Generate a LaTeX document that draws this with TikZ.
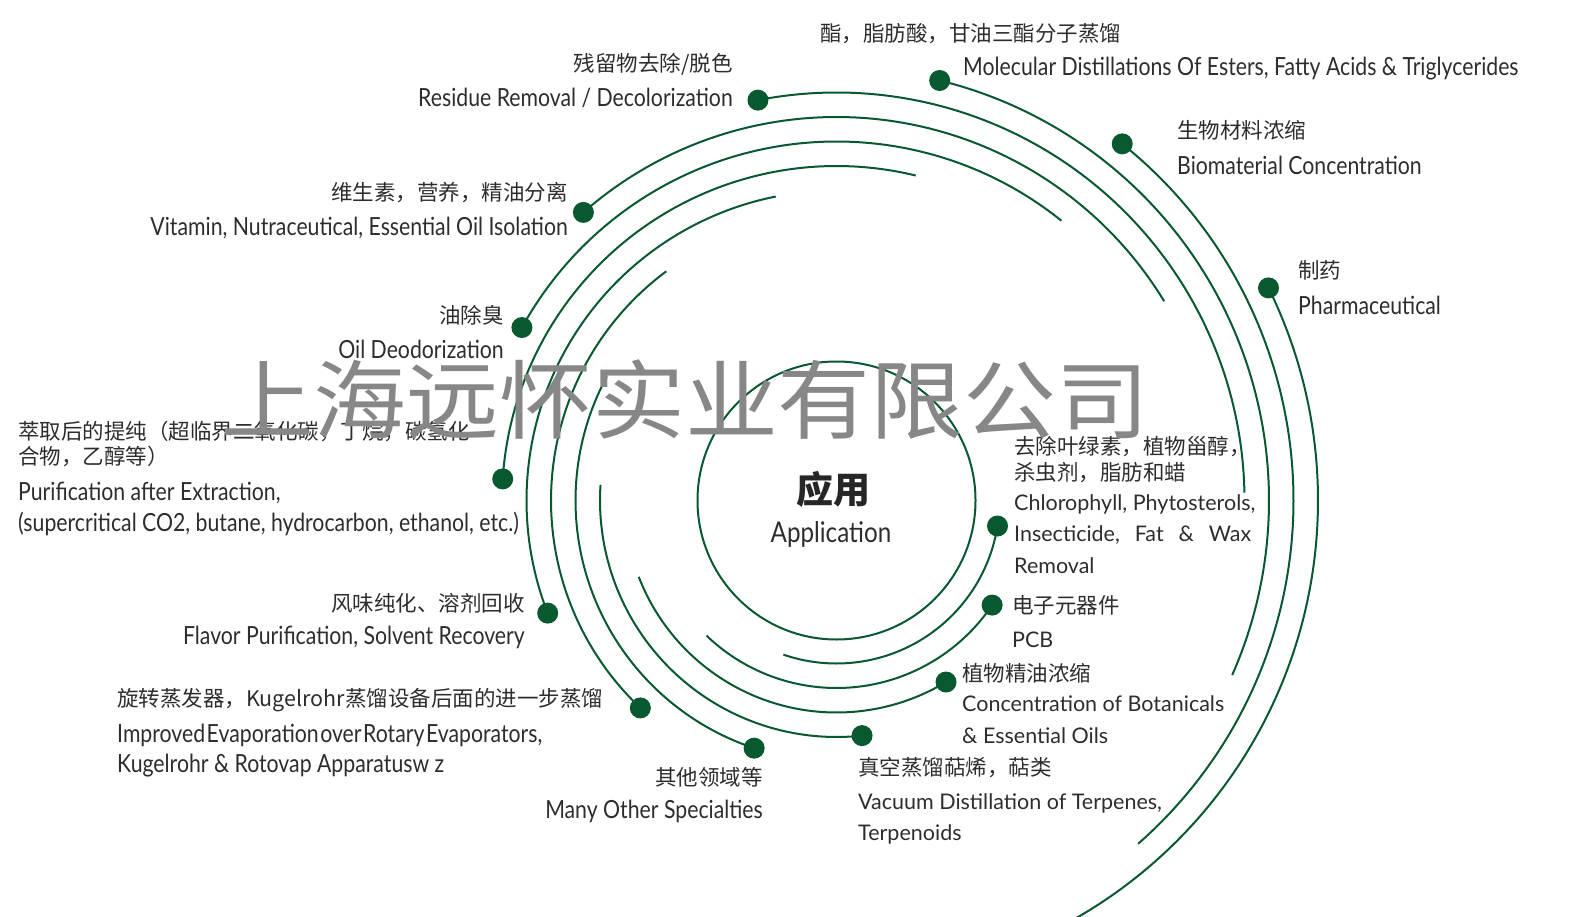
\documentclass[tikz,border=0pt]{standalone}
\usepackage{fontspec}
\setmainfont{Lato}[FakeStretch=0.85]
\newfontfamily\rfont{Lato}
\newfontfamily\cjk{Noto Sans CJK SC}
\newfontfamily\wmfont{Noto Sans CJK SC}[FakeStretch=1.08]
\usetikzlibrary{positioning}
\definecolor{leaf}{RGB}{8,88,48}
\definecolor{ink}{RGB}{45,45,45}
\definecolor{mark}{RGB}{135,135,135}

\begin{document}
\begin{tikzpicture}[x=1pt,y=1pt,
    leafdot/.style={circle, fill=leaf, inner sep=0pt, minimum size=21pt},
    arcline/.style={draw=leaf, line width=2pt},
    cn/.style={inner sep=0pt, text=ink, font=\cjk\fontsize{21.5}{25}\selectfont},
    en/.style={inner sep=0pt, text=ink, font=\fontsize{25}{30}\selectfont},
    enr/.style={inner sep=0pt, text=ink, font=\rfont\fontsize{21.5}{25}\selectfont},
    wmark/.style={inner sep=0pt, text=mark, font=\wmfont\fontsize{86}{90}\selectfont}]
    \useasboundingbox (0,0) rectangle (1573,-917);
    \coordinate (c) at (836.5,-500.5);
    % core
    \node[draw=leaf, line width=2pt, circle, inner sep=0pt, minimum size=278pt] (core) at (c) {};
    \node[inner sep=0pt, text=black!85, font=\cjk\bfseries\fontsize{37}{40}\selectfont] (yy) at (833,-489) {应用};
    \node[inner sep=0pt, text=ink, font=\fontsize{28.5}{32}\selectfont] (app) at (831,-534) {Application};
    % dots
    \node[leafdot] (d1) at ([shift={(-9.0:163)}]c) {};
    \node[leafdot] (d2) at ([shift={(-33.9:187.5)}]c) {};
    \node[leafdot] (d3) at ([shift={(-58.9:212)}]c) {};
    \node[leafdot] (d4) at ([shift={(-83.8:236.5)}]c) {};
    \node[leafdot] (d5) at ([shift={(-108.4:261)}]c) {};
    \node[leafdot] (d6) at ([shift={(-133.4:285.5)}]c) {};
    \node[leafdot] (d7) at ([shift={(-158.7:310)}]c) {};
    \node[leafdot] (d8) at ([shift={(176.3:334.5)}]c) {};
    \node[leafdot] (d9) at ([shift={(151.2:359)}]c) {};
    \node[leafdot] (d10) at ([shift={(131.3:383.5)}]c) {};
    \node[leafdot] (d11) at ([shift={(101.1:408)}]c) {};
    \node[leafdot] (d12) at ([shift={(76.2:432.5)}]c) {};
    \node[leafdot] (d13) at ([shift={(51.3:457)}]c) {};
    \node[leafdot] (d14) at ([shift={(26.2:481.5)}]c) {};
    % arcs
    \draw[arcline] (d1.center) arc[start angle=-9.0, end angle=-109.0, radius=163];
    \draw[arcline] (d2.center) arc[start angle=-33.9, end angle=-133.9, radius=187.5];
    \draw[arcline] (d3.center) arc[start angle=-58.9, end angle=-158.9, radius=212];
    \draw[arcline] (d4.center) arc[start angle=-83.8, end angle=-183.8, radius=236.5];
    \draw[arcline] (d5.center) arc[start angle=-108.4, end angle=-208.4, radius=261];
    \draw[arcline] (d6.center) arc[start angle=-133.4, end angle=-233.4, radius=285.5];
    \draw[arcline] (d7.center) arc[start angle=-158.7, end angle=-258.7, radius=310];
    \draw[arcline] (d8.center) arc[start angle=176.3, end angle=76.3, radius=334.5];
    \draw[arcline] (d9.center) arc[start angle=151.2, end angle=51.2, radius=359];
    \draw[arcline] (d10.center) arc[start angle=131.3, end angle=31.3, radius=383.5];
    \draw[arcline] (d11.center) arc[start angle=101.1, end angle=1.1, radius=408];
    \draw[arcline] (d12.center) arc[start angle=76.2, end angle=-23.8, radius=432.5];
    \draw[arcline] (d13.center) arc[start angle=51.3, end angle=-48.7, radius=457];
    \draw[arcline] (d14.center) arc[start angle=26.2, end angle=-73.8, radius=481.5];
    % labels, right block
    \node[cn, anchor=west] (t1a) at (1014,-447) {去除叶绿素，植物甾醇，};
    \node[cn, anchor=west] (t1b) at (1014,-473) {杀虫剂，脂肪和蜡};
    \node[enr, anchor=west] (t1c) at (1014,-504) {Chlorophyll, Phytosterols,};
    \node[enr, anchor=west] (t1d) at (1014,-535) {\hbox to 237pt{Insecticide,\hfill Fat\hfill \&\hfill Wax}};
    \node[enr, anchor=west] (t1e) at (1014,-566) {Removal};
    \node[cn, anchor=west] (t2a) at (1012,-605) {电子元器件};
    \node[enr, anchor=west] (t2b) at (1012,-640) {PCB};
    \node[cn, anchor=west] (t3a) at (962,-673) {植物精油浓缩};
    \node[enr, anchor=west] (t3b) at (962,-704) {Concentration of Botanicals};
    \node[enr, anchor=west] (t3c) at (962,-736) {\& Essential Oils};
    \node[cn, anchor=west] (t4a) at (858,-768) {真空蒸馏萜烯，萜类};
    \node[enr, anchor=west] (t4b) at (858,-803) {Vacuum Distillation of Terpenes,};
    \node[enr, anchor=west] (t4c) at (858,-834) {Terpenoids};
    % labels, left side
    \node[cn, anchor=east] (t5a) at (763,-777) {其他领域等};
    \node[en, anchor=east] (t5b) at (763,-811) {Many Other Specialties};
    \node[cn, anchor=west] (t6a) at (117,-700) {旋转蒸发器，Kugelrohr蒸馏设备后面的进一步蒸馏};
    \node[en, anchor=west] (t6b) at (117,-735) {Improved\hspace{1.5pt}Evaporation\hspace{1.5pt}over\hspace{1.5pt}Rotary\hspace{1.5pt}Evaporators,};
    \node[en, anchor=west] (t6c) at (117,-766) {Kugelrohr \& Rotovap Apparatusw z};
    \node[cn, anchor=east] (t7a) at (525,-603) {风味纯化、溶剂回收};
    \node[en, anchor=east] (t7b) at (525,-637) {Flavor Purification, Solvent Recovery};
    \node[cn, anchor=west] (t8a) at (18,-431) {萃取后的提纯（超临界二氧化碳，丁烷，碳氢化};
    \node[cn, anchor=west] (t8b) at (18,-456) {合物，乙醇等）};
    \node[en, anchor=west] (t8c) at (18,-493) {Purification after Extraction,};
    \node[en, anchor=west] (t8d) at (18,-524) {(supercritical CO2, butane, hydrocarbon, ethanol, etc.)};
    \node[cn, anchor=east] (t9a) at (504,-315) {油除臭};
    \node[en, anchor=east] (t9b) at (504,-349) {Oil Deodorization};
    \node[cn, anchor=east] (t10a) at (568,-193) {维生素，营养，精油分离};
    \node[en, anchor=east] (t10b) at (568,-228) {Vitamin, Nutraceutical, Essential Oil Isolation};
    \node[cn, anchor=east] (t11a) at (733,-64) {残留物去除/脱色};
    \node[en, anchor=east] (t11b) at (733,-98) {Residue Removal / Decolorization};
    % labels, top right
    \node[cn, anchor=west] (t12a) at (820,-34) {酯，脂肪酸，甘油三酯分子蒸馏};
    \node[en, anchor=west] (t12b) at (963,-69) {Molecular Distillations Of Esters, Fatty Acids \& Triglycerides};
    \node[cn, anchor=west] (t13a) at (1177,-130) {生物材料浓缩};
    \node[en, anchor=west] (t13b) at (1177,-165) {Biomaterial Concentration};
    \node[cn, anchor=west] (t14a) at (1298,-270) {制药};
    \node[en, anchor=west] (t14b) at (1298,-305) {Pharmaceutical};
    % watermark
    \node[wmark] (wm) at (685,-400) {上海远怀实业有限公司};
\end{tikzpicture}
\end{document}
